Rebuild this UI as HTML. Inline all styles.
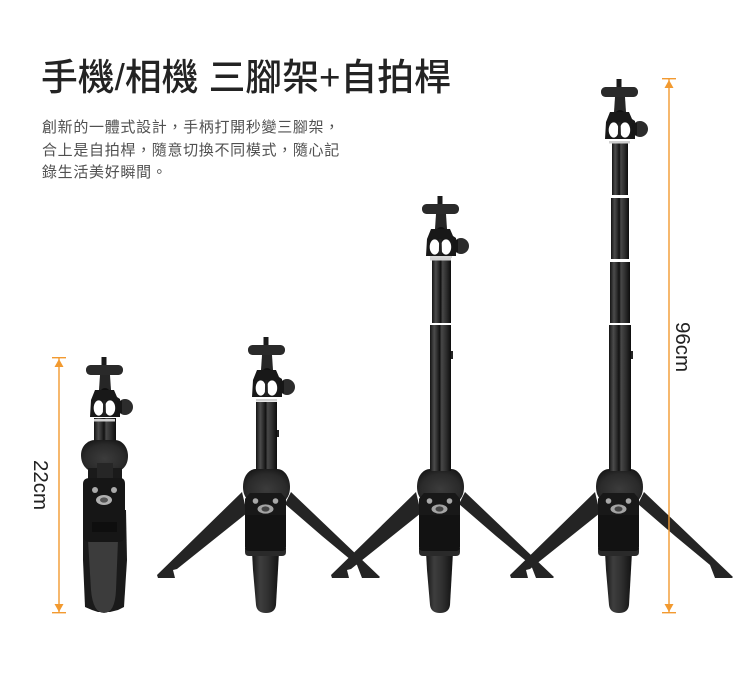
<!DOCTYPE html>
<html lang="zh-Hant">
<head>
<meta charset="utf-8">
<title>手機/相機 三腳架+自拍桿</title>
<style>
html,body{margin:0;padding:0;background:#fff}
body{width:750px;height:681px;position:relative;overflow:hidden;font-family:"Liberation Sans","Noto Sans CJK TC",sans-serif}
svg{position:absolute;left:0;top:0}
h1{position:absolute;left:41px;top:51px;margin:0;font-size:36.8px;line-height:54px;font-weight:500;color:#232323;white-space:nowrap}
p{position:absolute;left:42px;top:117px;margin:0;font-size:15px;line-height:22.6px;letter-spacing:.68px;font-weight:400;color:#505050;white-space:nowrap}
</style>
</head>
<body>
<svg width="750" height="681" viewBox="0 0 750 681" xmlns="http://www.w3.org/2000/svg">
<defs>
<linearGradient id="tube" x1="0" x2="1" y1="0" y2="0">
<stop offset="0" stop-color="#141414"/><stop offset=".2" stop-color="#4c4c4c"/><stop offset=".36" stop-color="#2a2a2a"/><stop offset=".46" stop-color="#111"/><stop offset=".55" stop-color="#484848"/><stop offset=".75" stop-color="#303030"/><stop offset="1" stop-color="#0c0c0c"/>
</linearGradient>
<linearGradient id="grip" x1="0" x2="1" y1="0" y2="0">
<stop offset="0" stop-color="#161616"/><stop offset=".3" stop-color="#3e3e3e"/><stop offset=".6" stop-color="#303030"/><stop offset="1" stop-color="#121212"/>
</linearGradient>
<radialGradient id="ball" cx=".5" cy=".55" r=".6">
<stop offset="0" stop-color="#3c3c3c"/><stop offset=".7" stop-color="#2a2a2a"/><stop offset="1" stop-color="#181818"/>
</radialGradient>
<g id="head">
<rect x="263.5" y="337" width="5" height="9" fill="#1a1a1a"/>
<rect x="248" y="345" width="37" height="10" rx="4.5" fill="#2a2a2a"/>
<path d="M262,355h10l1,15h-12z" fill="#262626"/>
<circle cx="267" cy="373" r="5" fill="#0f0f0f"/>
<path d="M257,370H276L279,377L282,379V397H252L253,380Z" fill="#181818"/>
<circle cx="287" cy="387" r="8" fill="#2c2c2c"/>
<rect x="279" y="381" width="5" height="12" fill="#161616"/>
<ellipse cx="260.7" cy="388" rx="5" ry="7.6" fill="#fff"/>
<ellipse cx="272" cy="388" rx="5.2" ry="7.6" fill="#fff"/>
<path d="M265.2,380h2.4l.4,16h-3.2z" fill="#222"/>
<rect x="256" y="399" width="21" height="2.5" fill="#d0d0d0"/>
</g>
<g id="base">
<path d="M242,492L157,575L158,578L175,578L173,570L177,569L222,533L247,513Z" fill="#242424"/>
<path d="M291,492L380,577L379,578L362,578L357,565L322,536L285,504Z" fill="#242424"/>
<path d="M243,487C243,475 250,469 256,469H277C285,469 290,478 290,487C290,498 284,506 266,506C250,506 243,498 243,487Z" fill="url(#ball)"/>
<path d="M252,552H279L278,570L276,605Q275,613 266,613Q257,613 256,605L253,570Z" fill="url(#grip)"/>
<path d="M245,548H286V552Q286,556 282,556H249Q245,556 245,552Z" fill="#2a2a2a"/>
<path d="M250,493H281L286,499V547Q286,551 282,551H249Q245,551 245,547V499Z" fill="#121212"/>
<path d="M250,493H281L286,499V515H245V499Z" fill="#181818"/>
<circle cx="255.5" cy="501" r="2.8" fill="#a8a8a8"/>
<circle cx="275.5" cy="501" r="2.8" fill="#a8a8a8"/>
<ellipse cx="265.5" cy="509" rx="8" ry="4.6" fill="#a4a4a4"/>
<ellipse cx="265.5" cy="509" rx="4" ry="2.6" fill="#444"/>
</g>
</defs>

<!-- tripod 2 -->
<rect x="256" y="402" width="21" height="68" fill="url(#tube)"/>
<rect x="277" y="430" width="2" height="7" fill="#222"/>
<use href="#head"/>
<use href="#base"/>

<!-- tripod 3 -->
<g transform="translate(174,0)"><use href="#base"/></g>
<rect x="432" y="258" width="19" height="65" fill="url(#tube)"/>
<rect x="430" y="325" width="21" height="146" fill="url(#tube)"/>
<rect x="451" y="351" width="2" height="8" fill="#222"/>
<rect x="430" y="255.5" width="22" height="2.5" fill="#d5d5d5"/>
<g transform="translate(174,-141)"><use href="#head"/></g>

<!-- tripod 4 -->
<g transform="translate(353,0)"><use href="#base"/></g>
<rect x="612" y="143" width="16" height="52" fill="url(#tube)"/>
<rect x="611" y="198" width="18" height="61" fill="url(#tube)"/>
<rect x="610" y="262" width="20" height="61" fill="url(#tube)"/>
<rect x="609" y="325" width="22" height="146" fill="url(#tube)"/>
<rect x="631" y="351" width="2" height="8" fill="#222"/>
<g transform="translate(353,-258)"><use href="#head"/></g>

<!-- tripod 1 folded -->
<path d="M83,510L83,560L85,607L92,610L98,612H110L118,610L124,607L127,560L126,510Z" fill="#1a1a1a"/>
<path d="M88,540H118L116,590Q115,613 104,613Q93,613 91,590Z" fill="#3c3c3c"/>
<rect x="94" y="418" width="22" height="24" fill="url(#tube)"/>
<path d="M81,455C81,446 88,440 95,440H115C122,440 128,447 128,456C128,466 122,474 104,474C88,474 81,466 81,455Z" fill="url(#ball)"/>
<rect x="88" y="468" width="34" height="14" fill="#1a1a1a"/>
<rect x="97" y="463" width="16" height="17" fill="#262626"/>
<path d="M90,478H120Q125,478 125,484V535Q125,542 118,542H90Q83,542 83,535V484Q83,478 90,478Z" fill="#161616"/>
<rect x="92" y="522" width="25" height="10" fill="#0e0e0e"/>
<circle cx="95" cy="490" r="3" fill="#aaa"/>
<circle cx="114" cy="490" r="3" fill="#aaa"/>
<ellipse cx="104" cy="500" rx="8" ry="5" fill="#b0b0b0"/>
<ellipse cx="104" cy="500" rx="4" ry="2.6" fill="#555"/>
<g transform="translate(-162,20)"><use href="#head"/></g>

<!-- dimensions -->
<g fill="#f29a30" stroke="none">
<rect x="52" y="357" width="14" height="1.4"/>
<rect x="52" y="612" width="14" height="1.4"/>
<rect x="58.3" y="358" width="1.4" height="254"/>
<path d="M59,359L54.5,367H63.5Z"/>
<path d="M59,612L54.5,604H63.5Z"/>
<rect x="662" y="78" width="14" height="1.4"/>
<rect x="662" y="612" width="14" height="1.4"/>
<rect x="668.3" y="79" width="1.4" height="533"/>
<path d="M669,80L664.5,88H673.5Z"/>
<path d="M669,612L664.5,604H673.5Z"/>
</g>
<text transform="translate(34,485) rotate(90)" text-anchor="middle" font-family="Liberation Sans, sans-serif" font-size="20.5" fill="#222">22cm</text>
<text transform="translate(676,347) rotate(90)" text-anchor="middle" font-family="Liberation Sans, sans-serif" font-size="20.5" fill="#222">96cm</text>
</svg>
<h1>手機/相機 三腳架+自拍桿</h1>
<p>創新的一體式設計，手柄打開秒變三腳架，<br>合上是自拍桿，隨意切換不同模式，隨心記<br>錄生活美好瞬間。</p>
</body>
</html>
